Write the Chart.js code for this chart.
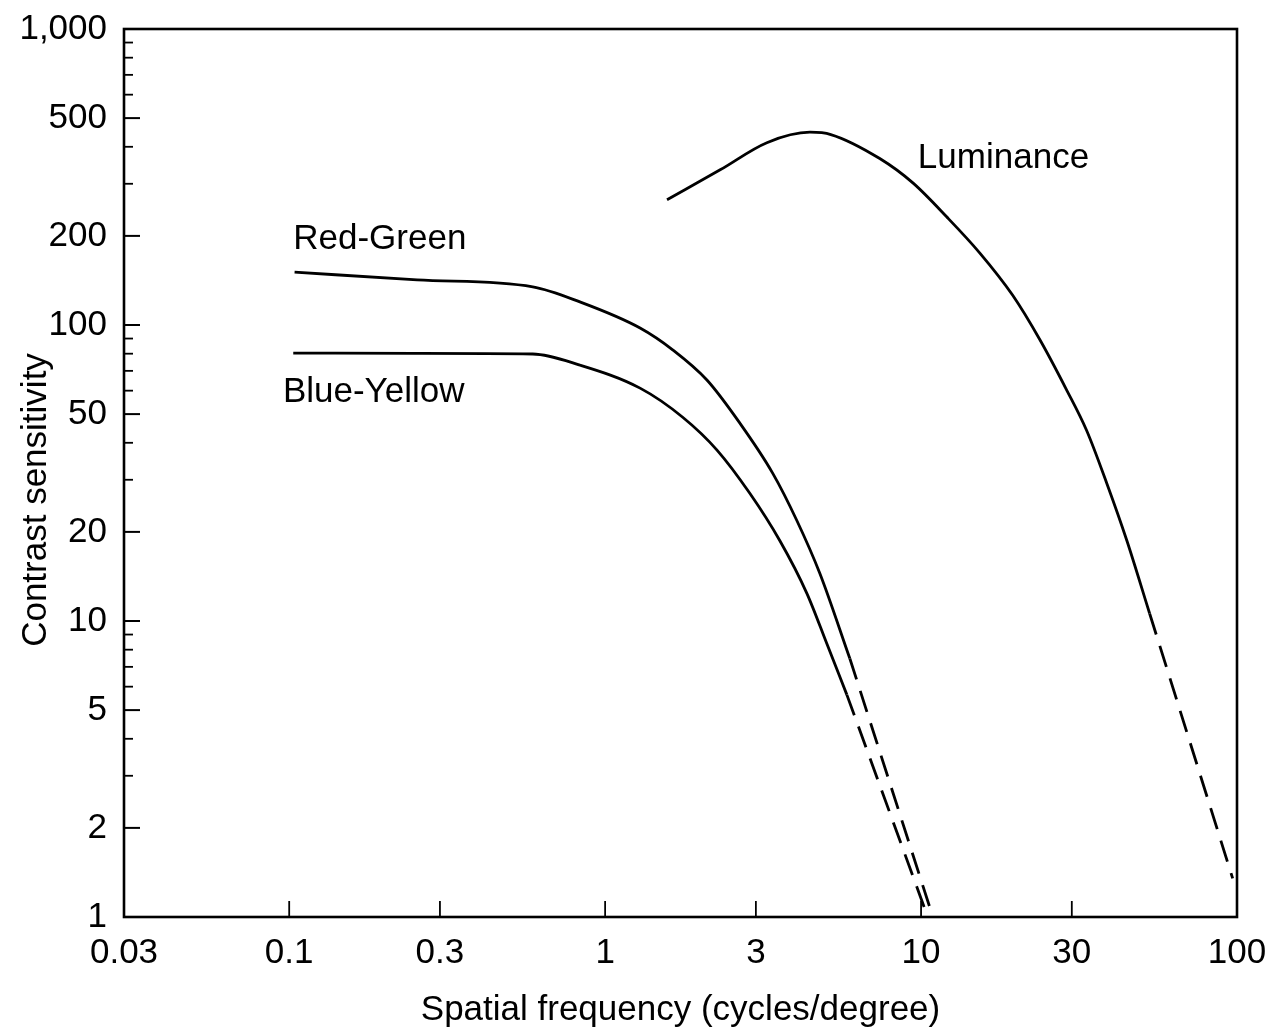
<!DOCTYPE html>
<html>
<head>
<meta charset="utf-8">
<script src="https://cdn.jsdelivr.net/npm/chart.js@4/dist/chart.umd.min.js"></script>
<style>
html,body{margin:0;padding:0;background:#fff;}
#wrap{width:1266px;height:1031px;position:relative;}
</style>
</head>
<body>
<div id="wrap"><canvas id="c"></canvas></div>
<script>
// ---- data ----
const xTickValues = [0.03, 0.1, 0.3, 1, 3, 10, 30, 100];
const xInnerTickValues = [0.1, 0.3, 1, 3, 10, 30];
const yTickValues = [1, 2, 5, 10, 20, 50, 100, 200, 500, 1000];
const yMinorValues = [3, 4, 6, 7, 8, 9, 30, 40, 60, 70, 80, 90, 300, 400, 600, 700, 800, 900];

const lumFreq = [1.57, 2.32, 3.25, 4.45, 5.18, 7.40, 9.42, 12.05, 15.35, 19.5, 23.8, 28.9, 33.4, 38.7, 44.8, 52.9];
const lumSens = [265, 335, 413, 448, 440, 365, 302, 232, 175, 126, 89, 60.3, 44.1, 29.2, 18.7, 10.6];
const lumDashFreq = [52.9, 96.9];
const lumDashSens = [10.6, 1.35];

const rgFreq = [0.104, 0.254, 0.590, 0.832, 1.29, 1.64, 2.10, 2.67, 3.39, 4.04, 4.78, 5.95];
const rgSens = [151, 142, 134.6, 119.7, 97.7, 82.3, 65.2, 46.6, 31.6, 21.9, 14.5, 7.47];
const rgDashFreq = [5.95, 10.9];
const rgDashSens = [7.47, 1.0];

const byFreq = [0.103, 0.25, 0.590, 0.832, 1.29, 1.76, 2.26, 2.87, 3.57, 4.35, 5.03, 5.82];
const bySens = [80.4, 80.2, 79.8, 73.2, 61.2, 48.8, 37.8, 27.0, 18.7, 12.4, 8.39, 5.64];
const byDashFreq = [5.82, 10.5];
const byDashSens = [5.64, 1.0];

const seriesLabels = ['Luminance', 'Red-Green', 'Blue-Yellow'];
const labelFreq = [9.77, 0.103, 0.0955];
const labelSens = [367, 194, 59.3];

const xTitle = 'Spatial frequency (cycles/degree)';
const yTitle = 'Contrast sensitivity';

// ---- helpers ----
const FONT = '"Liberation Sans", Arial, Helvetica, sans-serif';
const FS = 35;
const pts = (xs, ys) => xs.map((x, i) => ({x: x, y: ys[i]}));
const solid = (xs, ys) => ({data: pts(xs, ys), borderColor: '#000', borderWidth: 2.8, pointRadius: 0, fill: false, cubicInterpolationMode: 'monotone'});
const dashed = (xs, ys) => ({data: pts(xs, ys), borderColor: '#000', borderWidth: 2.8, pointRadius: 0, fill: false, borderDash: [22, 12], tension: 0});

const fmt = v => v >= 1000 ? v.toLocaleString('en-US') : String(v);

const framePlugin = {
  id: 'frame',
  afterDraw(chart) {
    const {ctx, chartArea: a, scales} = chart;
    const xs = scales.x, ys = scales.y;
    ctx.save();
    ctx.strokeStyle = '#000';
    ctx.lineWidth = 2.6;
    ctx.strokeRect(a.left, a.top, a.right - a.left, a.bottom - a.top);
    ctx.lineWidth = 2;
    yTickValues.forEach(v => {
      const y = ys.getPixelForValue(v);
      ctx.beginPath(); ctx.moveTo(a.left, y); ctx.lineTo(a.left + 16, y); ctx.stroke();
    });
    ctx.lineWidth = 1.8;
    yMinorValues.forEach(v => {
      const y = ys.getPixelForValue(v);
      ctx.beginPath(); ctx.moveTo(a.left, y); ctx.lineTo(a.left + 9, y); ctx.stroke();
    });
    xInnerTickValues.forEach(v => {
      const x = xs.getPixelForValue(v);
      ctx.beginPath(); ctx.moveTo(x, a.bottom); ctx.lineTo(x, a.bottom - 16); ctx.stroke();
    });
    ctx.fillStyle = '#000';
    ctx.font = FS + 'px ' + FONT;
    ctx.textAlign = 'left';
    ctx.textBaseline = 'middle';
    seriesLabels.forEach((t, i) => {
      ctx.fillText(t, xs.getPixelForValue(labelFreq[i]), ys.getPixelForValue(labelSens[i]));
    });
    // y-axis title (sits a little below the axis centre in the original)
    ctx.translate(36, 500);
    ctx.rotate(-Math.PI / 2);
    ctx.textAlign = 'center';
    ctx.fillText(yTitle, 0, 0);
    ctx.restore();
  }
};

new Chart(document.getElementById('c'), {
  type: 'line',
  data: {
    datasets: [
      solid(lumFreq, lumSens), dashed(lumDashFreq, lumDashSens),
      solid(rgFreq, rgSens), dashed(rgDashFreq, rgDashSens),
      solid(byFreq, bySens), dashed(byDashFreq, byDashSens)
    ]
  },
  options: {
    responsive: true,
    maintainAspectRatio: false,
    animation: false,
    layout: {padding: {top: 29, right: 29, left: 0, bottom: 0}},
    plugins: {legend: {display: false}, tooltip: {enabled: false}},
    scales: {
      x: {
        type: 'logarithmic', min: 0.03, max: 100,
        afterBuildTicks: s => { s.ticks = xTickValues.map(v => ({value: v})); },
        afterFit: s => { s.height = 114; s.paddingLeft = 0; s.paddingRight = 0; },
        grid: {display: false, drawTicks: false},
        border: {display: false},
        ticks: {color: '#000', font: {family: FONT, size: FS}, padding: 15, maxRotation: 0, autoSkip: false, callback: v => fmt(v)},
        title: {display: true, text: xTitle, color: '#000', font: {family: FONT, size: FS}, padding: {top: 0, bottom: 0}}
      },
      y: {
        type: 'logarithmic', min: 1, max: 1000,
        afterBuildTicks: s => { s.ticks = yTickValues.map(v => ({value: v})); },
        afterFit: s => { s.width = 124; s.paddingTop = 0; s.paddingBottom = 0; },
        grid: {display: false, drawTicks: false},
        border: {display: false},
        ticks: {color: '#000', font: {family: FONT, size: FS}, padding: 17, autoSkip: false, callback: v => fmt(v)},
        title: {display: false}
      }
    }
  },
  plugins: [framePlugin]
});
</script>
</body>
</html>
